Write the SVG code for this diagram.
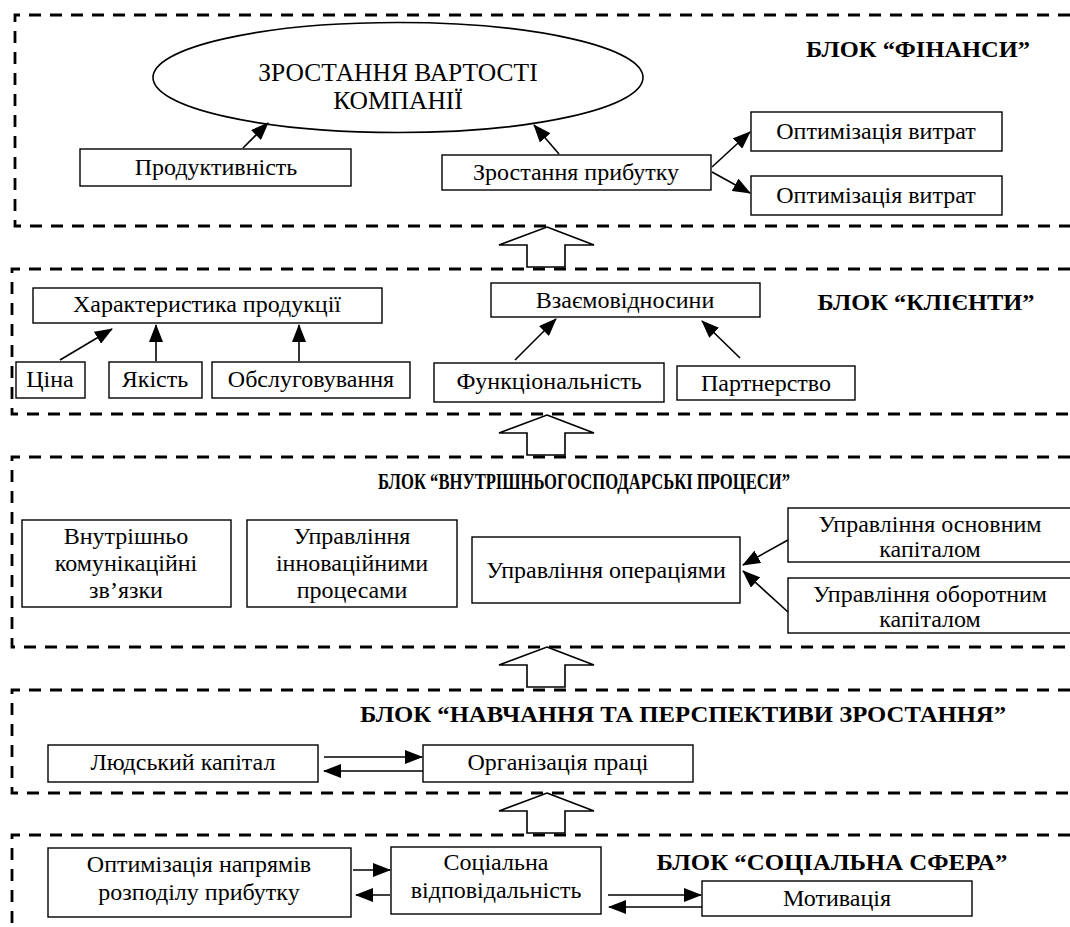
<svg xmlns="http://www.w3.org/2000/svg" width="1070" height="927" viewBox="0 0 1070 927">
<defs>
<style>
.blk{fill:none;stroke:#000;stroke-width:2.8;stroke-dasharray:12 9}
.box{fill:#fff;stroke:#000;stroke-width:1.4}
.t{font-family:"Liberation Serif","Times New Roman",serif;font-size:24px;text-anchor:middle;fill:#000}
.h{font-family:"Liberation Serif","Times New Roman",serif;font-size:24px;font-weight:bold;text-anchor:middle;fill:#000}
.ln{fill:none;stroke:#000;stroke-width:1.6;marker-end:url(#ah)}
.big{fill:#fff;stroke:#000;stroke-width:1.6}
</style>
<marker id="ah" markerUnits="userSpaceOnUse" markerWidth="18" markerHeight="14" refX="17" refY="7" orient="auto">
<path d="M0,0 L18,7 L0,14 z" fill="#000"/>
</marker>
</defs>
<rect width="1070" height="927" fill="#fff"/>

<g id="blocks">
<path class="blk" d="M1070,15 H15 V226 H1070"/>
<path class="blk" d="M1070,269 H12 V414 H1070"/>
<path class="blk" d="M1070,457 H12 V647 H1070"/>
<path class="blk" d="M1070,690 H12 V793 H1070"/>
<path class="blk" d="M1070,835 H12 V927"/>
</g>

<g id="labels">
<text class="h" x="918" y="57" textLength="224" lengthAdjust="spacingAndGlyphs">БЛОК “ФІНАНСИ”</text>
<text class="h" x="926" y="310" textLength="217" lengthAdjust="spacingAndGlyphs">БЛОК “КЛІЄНТИ”</text>
<text class="h" x="584" y="489" textLength="412" lengthAdjust="spacingAndGlyphs">БЛОК “ВНУТРІШНЬОГОСПОДАРСЬКІ ПРОЦЕСИ”</text>
<text class="h" x="683" y="722" textLength="646" lengthAdjust="spacingAndGlyphs">БЛОК “НАВЧАННЯ ТА ПЕРСПЕКТИВИ ЗРОСТАННЯ”</text>
<text class="h" x="832" y="870" textLength="351" lengthAdjust="spacingAndGlyphs">БЛОК “СОЦІАЛЬНА СФЕРА”</text>
</g>

<g id="big-arrows">
<polygon class="big" points="547,227 594,245 565,245 565,267 527,267 527,245 499,245"/>
<polygon class="big" points="547,415 594,433 565,433 565,455 527,455 527,433 499,433"/>
<polygon class="big" points="547,647 594,665 565,665 565,687 527,687 527,665 499,665"/>
<polygon class="big" points="547,793 594,811 565,811 565,833 527,833 527,811 499,811"/>
</g>

<g id="n-value">
<ellipse class="box" cx="398" cy="77.5" rx="245" ry="55" style="stroke-width:1.6"/>
<text class="t" x="398" y="81" style="font-size:25.5px">ЗРОСТАННЯ ВАРТОСТІ</text>
<text class="t" x="398" y="109" style="font-size:25.5px">КОМПАНІЇ</text>
</g>
<g id="n-prod">
<rect class="box" x="80" y="149" width="271" height="37"/>
<text class="t" x="216" y="175">Продуктивність</text>
</g>
<g id="n-profit">
<rect class="box" x="442" y="155" width="269" height="35"/>
<text class="t" x="576" y="180">Зростання прибутку</text>
</g>
<g id="n-cost1">
<rect class="box" x="751" y="112" width="251" height="39"/>
<text class="t" x="876" y="139">Оптимізація витрат</text>
</g>
<g id="n-cost2">
<rect class="box" x="751" y="176" width="251" height="39"/>
<text class="t" x="876" y="203">Оптимізація витрат</text>
</g>

<g id="n-char">
<rect class="box" x="33" y="288" width="349" height="35"/>
<text class="t" x="207" y="312">Характеристика продукції</text>
</g>
<g id="n-price">
<rect class="box" x="16" y="362" width="69" height="36"/>
<text class="t" x="50" y="387">Ціна</text>
</g>
<g id="n-quality">
<rect class="box" x="109" y="362" width="93" height="36"/>
<text class="t" x="155" y="387">Якість</text>
</g>
<g id="n-service">
<rect class="box" x="212" y="362" width="198" height="36"/>
<text class="t" x="311" y="387">Обслуговування</text>
</g>
<g id="n-rel">
<rect class="box" x="491" y="283" width="269" height="34"/>
<text class="t" x="625" y="308">Взаємовідносини</text>
</g>
<g id="n-func">
<rect class="box" x="434" y="363" width="230" height="39"/>
<text class="t" x="549" y="389">Функціональність</text>
</g>
<g id="n-partner">
<rect class="box" x="677" y="366" width="178" height="34"/>
<text class="t" x="766" y="391">Партнерство</text>
</g>

<g id="n-comm">
<rect class="box" x="22" y="520" width="209" height="87"/>
<text class="t" x="126" y="544">Внутрішньо</text>
<text class="t" x="126" y="571">комунікаційні</text>
<text class="t" x="126" y="598">зв’язки</text>
</g>
<g id="n-innov">
<rect class="box" x="247" y="520" width="210" height="87"/>
<text class="t" x="352" y="544">Управління</text>
<text class="t" x="352" y="571">інноваційними</text>
<text class="t" x="352" y="598">процесами</text>
</g>
<g id="n-oper">
<rect class="box" x="472" y="537" width="268" height="66"/>
<text class="t" x="606" y="578">Управління операціями</text>
</g>
<g id="n-fixed">
<rect class="box" x="788" y="508" width="290" height="54"/>
<text class="t" x="930" y="532">Управління основним</text>
<text class="t" x="930" y="557">капіталом</text>
</g>
<g id="n-working">
<rect class="box" x="788" y="578" width="290" height="55"/>
<text class="t" x="930" y="602">Управління оборотним</text>
<text class="t" x="930" y="627">капіталом</text>
</g>

<g id="n-human">
<rect class="box" x="48" y="745" width="270" height="37"/>
<text class="t" x="183" y="770">Людський капітал</text>
</g>
<g id="n-org">
<rect class="box" x="423" y="745" width="270" height="37"/>
<text class="t" x="558" y="770">Організація праці</text>
</g>

<g id="n-optdist">
<rect class="box" x="48" y="848" width="303" height="69"/>
<text class="t" x="199" y="872">Оптимізація напрямів</text>
<text class="t" x="199" y="900">розподілу прибутку</text>
</g>
<g id="n-social">
<rect class="box" x="391" y="847" width="210" height="67"/>
<text class="t" x="496" y="870">Соціальна</text>
<text class="t" x="496" y="898">відповідальність</text>
</g>
<g id="n-motiv">
<rect class="box" x="702" y="881" width="270" height="35"/>
<text class="t" x="837" y="906">Мотивація</text>
</g>

<g id="connectors">
<line class="ln" x1="243" y1="148" x2="268" y2="123"/>
<line class="ln" x1="559" y1="154" x2="534" y2="125"/>
<line class="ln" x1="712" y1="167" x2="750" y2="132"/>
<line class="ln" x1="712" y1="172" x2="750" y2="193"/>
<line class="ln" x1="60" y1="360" x2="112" y2="329"/>
<line class="ln" x1="156" y1="361" x2="156" y2="325"/>
<line class="ln" x1="299" y1="361" x2="299" y2="325"/>
<line class="ln" x1="515" y1="360" x2="556" y2="319"/>
<line class="ln" x1="740" y1="358" x2="702" y2="321"/>
<line class="ln" x1="788" y1="540" x2="743" y2="565"/>
<line class="ln" x1="788" y1="612" x2="743" y2="571"/>
<line class="ln" x1="324" y1="757" x2="422" y2="757"/>
<line class="ln" x1="423" y1="771" x2="324" y2="771"/>
<line class="ln" x1="353" y1="870" x2="390" y2="870"/>
<line class="ln" x1="390" y1="895" x2="356" y2="895"/>
<line class="ln" x1="608" y1="895" x2="701" y2="895"/>
<line class="ln" x1="702" y1="907" x2="609" y2="907"/>
</g>
</svg>
